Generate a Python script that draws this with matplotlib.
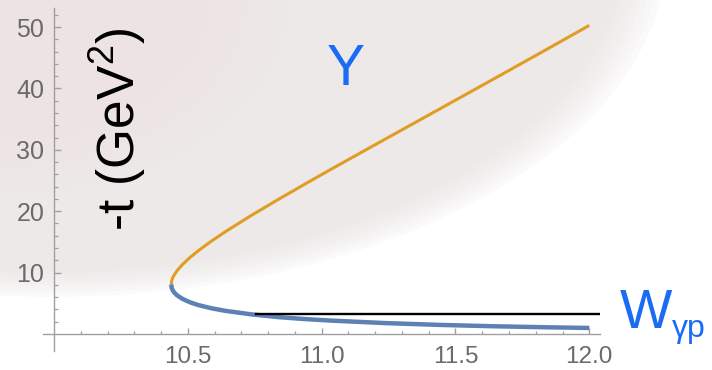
import matplotlib
matplotlib.use("Agg")
import matplotlib.pyplot as plt
import matplotlib.patches as patches
from matplotlib.ticker import FixedLocator
import numpy as np

plt.rcParams['font.family'] = ['Liberation Sans', 'DejaVu Sans']
plt.rcParams['mathtext.fontset'] = 'custom'
plt.rcParams['mathtext.rm'] = 'Liberation Sans'

# -t bounds of the photoproduction phase space vs W (GeV); both branches start at the threshold
w_pts = [10.438, 10.440, 10.443, 10.445, 10.450, 10.460, 10.480, 10.510, 10.540,
         10.590, 10.640, 10.740, 10.840, 10.940, 11.040, 11.240, 11.440, 11.640,
         11.840, 12.000]
t_upper = [8.07, 8.70, 9.08, 9.28, 9.68, 10.32, 11.31, 12.53, 13.59,
           15.18, 16.65, 19.39, 21.96, 24.48, 26.95, 31.80, 36.63, 41.47,
           46.34, 50.26]
t_lower = [8.07, 7.49, 7.17, 7.02, 6.72, 6.29, 5.72, 5.13, 4.70,
           4.17, 3.77, 3.18, 2.74, 2.42, 2.17, 1.77, 1.48, 1.26,
           1.09, 0.98]

# horizontal reference line
ref_t = 3.25
ref_w = [10.755, 12.035]

x_major = [10.5, 11.0, 11.5, 12.0]
x_labels = ['10.5', '11.0', '11.5', '12.0']
y_major = [10, 20, 30, 40, 50]

axis_gray = '#a0a0a0'
label_gray = '#6a6a6a'
text_blue = '#1a6cf4'
orange = '#e19c24'
blue = '#5e81b5'

fig = plt.figure(figsize=(7.12, 3.70), dpi=100)
fig.patch.set_facecolor('white')

# soft slide background behind the plot
for k in range(8):
    grow = 1.0 + 0.012 * (7 - k)
    bg = patches.Ellipse((0.070, 1.135), 1.60 * grow, 1.73 * grow,
                         transform=fig.transFigure, facecolor='#ebe6e6',
                         edgecolor='none', alpha=0.17, zorder=0)
    fig.add_artist(bg)
for k in range(6):
    grow = 1.0 + 0.08 * k
    tint = patches.Ellipse((0.02, 1.0), 0.55 * grow, 0.75 * grow,
                           transform=fig.transFigure, facecolor='#fadcdc',
                           edgecolor='none', alpha=0.06, zorder=0)
    fig.add_artist(tint)

ax = fig.add_axes([0.0604, 0.0514, 0.7823, 0.9270])
ax.set_facecolor('none')
ax.set_xlim(9.959, 12.04)
ax.set_ylim(-2.77, 53.1)

ax.plot(w_pts, t_upper, color=orange, lw=2.2, solid_capstyle='butt', zorder=3)
ax.plot(w_pts, t_lower, color=blue, lw=3.2, solid_capstyle='butt', zorder=3)
ax.plot(ref_w, [ref_t, ref_t], color='black', lw=1.7, zorder=4)

for side in ['top', 'right']:
    ax.spines[side].set_visible(False)
ax.spines['left'].set_position(('data', 10.0))
ax.spines['bottom'].set_position(('data', 0.0))
for side in ['left', 'bottom']:
    ax.spines[side].set_color(axis_gray)
    ax.spines[side].set_linewidth(1.0)

x_minor = [round(10.0 + 0.1 * i, 1) for i in range(1, 21) if round(10.0 + 0.1 * i, 1) not in x_major]
y_minor = [v for v in range(2, 53, 2) if v % 10 != 0]
ax.xaxis.set_major_locator(FixedLocator(x_major))
ax.xaxis.set_minor_locator(FixedLocator(x_minor))
ax.yaxis.set_major_locator(FixedLocator(y_major))
ax.yaxis.set_minor_locator(FixedLocator(y_minor))
ax.set_xticklabels(x_labels)

ax.tick_params(axis='x', which='major', direction='in', length=4, width=1,
               color=axis_gray, labelcolor=label_gray, labelsize=17.5, pad=9)
ax.tick_params(axis='x', which='minor', direction='in', length=2.2, width=0.9, color=axis_gray)
ax.tick_params(axis='y', which='major', direction='in', length=5, width=1,
               color=axis_gray, labelcolor=label_gray, labelsize=18, pad=7)
ax.tick_params(axis='y', which='minor', direction='in', length=3, width=0.9, color=axis_gray)

# axis titles and the particle label
fig.text(118 / 712, 1 - 129 / 370, '-t (GeV$^2$)', rotation=90, ha='center', va='center',
         fontsize=37, color='black')
fig.text(346 / 712, 1 - 70 / 370, 'Υ', ha='center', va='center', fontsize=41, color=text_blue)
fig.text(620 / 712, 1 - 328 / 370, 'W', ha='left', va='baseline', fontsize=40, color=text_blue)
fig.text(672 / 712, 1 - 337 / 370, 'γp', ha='left', va='baseline', fontsize=23, color=text_blue)

fig.savefig('out.png', dpi=100)
